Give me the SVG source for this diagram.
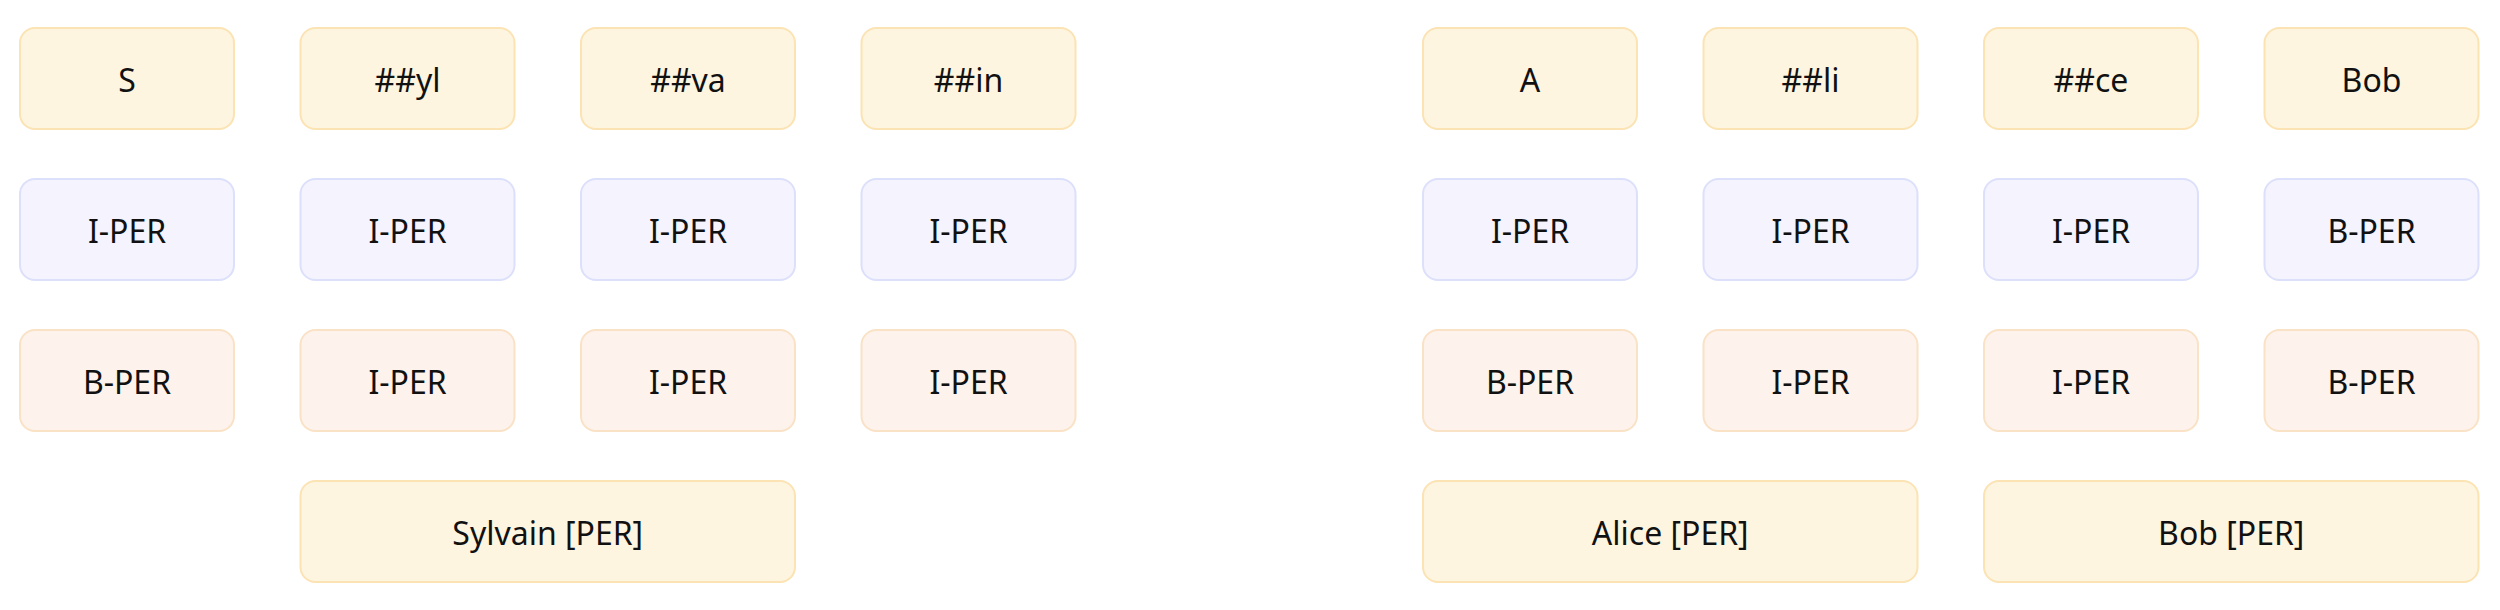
<svg xmlns="http://www.w3.org/2000/svg" width="2500" height="610" viewBox="0 0 2500 610">
<style>
  rect { stroke-width: 2; }
  .tok rect { fill: #fef5e1; stroke: #fbe3b4; }
  .lab rect { fill: #f4f3fe; stroke: #dde0fb; }
  .pred rect { fill: #fdf3ec; stroke: #fae2c6; }
  .ent rect { fill: #fef5e1; stroke: #fbe3b4; }
  text { font-family: "Noto Sans", "Open Sans", sans-serif; font-size: 32px; fill: #111111; text-anchor: middle; }
</style>
<rect x="0" y="0" width="2500" height="610" fill="#ffffff" stroke="none"/>
<g id="connectors"></g>
<!-- Row 1: tokens -->
<g id="tok-S" class="tok"><rect x="20" y="28" width="214" height="101" rx="15"/><text x="127" y="91.5">S</text></g>
<g id="tok-yl" class="tok"><rect x="300.5" y="28" width="214" height="101" rx="15"/><text x="407.5" y="91.5">##yl</text></g>
<g id="tok-va" class="tok"><rect x="581" y="28" width="214" height="101" rx="15"/><text x="688" y="91.5">##va</text></g>
<g id="tok-in" class="tok"><rect x="861.5" y="28" width="214" height="101" rx="15"/><text x="968.5" y="91.5">##in</text></g>
<g id="tok-A" class="tok"><rect x="1423" y="28" width="214" height="101" rx="15"/><text x="1530" y="91.5">A</text></g>
<g id="tok-li" class="tok"><rect x="1703.5" y="28" width="214" height="101" rx="15"/><text x="1810.5" y="91.5">##li</text></g>
<g id="tok-ce" class="tok"><rect x="1984" y="28" width="214" height="101" rx="15"/><text x="2091" y="91.5">##ce</text></g>
<g id="tok-Bob" class="tok"><rect x="2264.5" y="28" width="214" height="101" rx="15"/><text x="2371.5" y="91.5">Bob</text></g>
<!-- Row 2: labels -->
<g id="lab-1" class="lab"><rect x="20" y="179" width="214" height="101" rx="15"/><text x="127" y="242.5">I-PER</text></g>
<g id="lab-2" class="lab"><rect x="300.5" y="179" width="214" height="101" rx="15"/><text x="407.5" y="242.5">I-PER</text></g>
<g id="lab-3" class="lab"><rect x="581" y="179" width="214" height="101" rx="15"/><text x="688" y="242.5">I-PER</text></g>
<g id="lab-4" class="lab"><rect x="861.5" y="179" width="214" height="101" rx="15"/><text x="968.5" y="242.5">I-PER</text></g>
<g id="lab-5" class="lab"><rect x="1423" y="179" width="214" height="101" rx="15"/><text x="1530" y="242.5">I-PER</text></g>
<g id="lab-6" class="lab"><rect x="1703.5" y="179" width="214" height="101" rx="15"/><text x="1810.5" y="242.5">I-PER</text></g>
<g id="lab-7" class="lab"><rect x="1984" y="179" width="214" height="101" rx="15"/><text x="2091" y="242.5">I-PER</text></g>
<g id="lab-8" class="lab"><rect x="2264.5" y="179" width="214" height="101" rx="15"/><text x="2371.5" y="242.5">B-PER</text></g>
<!-- Row 3: predictions -->
<g id="pred-1" class="pred"><rect x="20" y="330" width="214" height="101" rx="15"/><text x="127" y="393.5">B-PER</text></g>
<g id="pred-2" class="pred"><rect x="300.5" y="330" width="214" height="101" rx="15"/><text x="407.5" y="393.5">I-PER</text></g>
<g id="pred-3" class="pred"><rect x="581" y="330" width="214" height="101" rx="15"/><text x="688" y="393.5">I-PER</text></g>
<g id="pred-4" class="pred"><rect x="861.5" y="330" width="214" height="101" rx="15"/><text x="968.5" y="393.5">I-PER</text></g>
<g id="pred-5" class="pred"><rect x="1423" y="330" width="214" height="101" rx="15"/><text x="1530" y="393.5">B-PER</text></g>
<g id="pred-6" class="pred"><rect x="1703.5" y="330" width="214" height="101" rx="15"/><text x="1810.5" y="393.5">I-PER</text></g>
<g id="pred-7" class="pred"><rect x="1984" y="330" width="214" height="101" rx="15"/><text x="2091" y="393.5">I-PER</text></g>
<g id="pred-8" class="pred"><rect x="2264.5" y="330" width="214" height="101" rx="15"/><text x="2371.5" y="393.5">B-PER</text></g>
<!-- Row 4: entities -->
<g id="ent-sylvain" class="ent"><rect x="300.5" y="481" width="494.5" height="101" rx="15"/><text x="547.75" y="544.5">Sylvain [PER]</text></g>
<g id="ent-alice" class="ent"><rect x="1423" y="481" width="494.5" height="101" rx="15"/><text x="1670.25" y="544.5">Alice [PER]</text></g>
<g id="ent-bob" class="ent"><rect x="1984" y="481" width="494.5" height="101" rx="15"/><text x="2231.25" y="544.5">Bob [PER]</text></g>
</svg>
